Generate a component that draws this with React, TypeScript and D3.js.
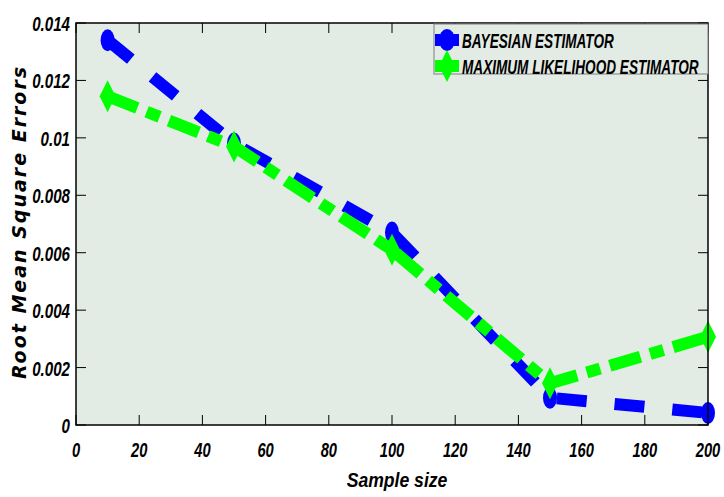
import { useEffect, useRef } from "react";
import * as d3 from "d3";

const sampleSizes = [10, 50, 100, 150, 200];
const bayesRmse = [0.0134, 0.0098, 0.0067, 0.00095, 0.00042];
const mleRmse = [0.01145, 0.0097, 0.0061, 0.00145, 0.00307];
const xTicks = [0, 20, 40, 60, 80, 100, 120, 140, 160, 180, 200];
const yTicks = [0, 0.002, 0.004, 0.006, 0.008, 0.01, 0.012, 0.014];
const yTickLabels = ["0", "0.002", "0.004", "0.006", "0.008", "0.01", "0.012", "0.014"];
const seriesNames = ["BAYESIAN ESTIMATOR", "MAXIMUM LIKELIHOOD ESTIMATOR"];

const FONT = "'Liberation Sans', Arial, sans-serif";

const App = () => {
  const ref = useRef<SVGSVGElement | null>(null);

  useEffect(() => {
    const width = 724;
    const height = 497;
    const margin = { top: 23, right: 16, bottom: 72, left: 76 };
    const iw = width - margin.left - margin.right;
    const ih = height - margin.top - margin.bottom;

    const svg = d3.select(ref.current);
    svg.selectAll("*").remove();

    const x = d3.scaleLinear().domain([0, 200]).range([0, iw]);
    const y = d3.scaleLinear().domain([0, 0.014]).range([ih, 0]);

    const g = svg.append("g").attr("transform", `translate(${margin.left},${margin.top})`);

    // condensed bold italic text (no narrow font installed, so squeeze horizontally)
    const narrow = (
      parent: d3.Selection<SVGGElement, unknown, null, undefined>,
      txt: string,
      tx: number,
      ty: number,
      size: number,
      sx: number,
      anchor: string
    ) =>
      parent
        .append("text")
        .attr("transform", `translate(${tx},${ty}) scale(${sx},1)`)
        .attr("text-anchor", anchor)
        .attr("font-family", FONT)
        .attr("font-weight", "bold")
        .attr("font-style", "italic")
        .attr("font-size", size)
        .text(txt);

    g.append("rect").attr("width", iw).attr("height", ih).attr("fill", "#e3ece4");

    // ticks pointing inward on all four sides
    const tk = 10;
    xTicks.forEach((t) => {
      g.append("line").attr("x1", x(t)).attr("x2", x(t)).attr("y1", ih).attr("y2", ih - tk).attr("stroke", "#000");
      g.append("line").attr("x1", x(t)).attr("x2", x(t)).attr("y1", 0).attr("y2", tk).attr("stroke", "#000");
      narrow(g, String(t), x(t), ih + 32, 21, 0.7, "middle");
    });
    yTicks.forEach((t, i) => {
      g.append("line").attr("x1", 0).attr("x2", tk).attr("y1", y(t)).attr("y2", y(t)).attr("stroke", "#000");
      g.append("line").attr("x1", iw).attr("x2", iw - tk).attr("y1", y(t)).attr("y2", y(t)).attr("stroke", "#000");
      narrow(g, yTickLabels[i], -6, y(t) + 8, 21, 0.72, "end");
    });

    const line = d3
      .line<[number, number]>()
      .x((d) => x(d[0]))
      .y((d) => y(d[1]));

    const bayes: [number, number][] = sampleSizes.map((s, i) => [s, bayesRmse[i]]);
    const mle: [number, number][] = sampleSizes.map((s, i) => [s, mleRmse[i]]);

    g.append("path")
      .datum(bayes)
      .attr("d", line)
      .attr("fill", "none")
      .attr("stroke", "#0000ff")
      .attr("stroke-width", 12)
      .attr("stroke-dasharray", "30,28");

    g.selectAll(".bdot")
      .data(bayes)
      .enter()
      .append("ellipse")
      .attr("cx", (d) => x(d[0]))
      .attr("cy", (d) => y(d[1]))
      .attr("rx", 7)
      .attr("ry", 11)
      .attr("fill", "#0000ff");

    g.append("path")
      .datum(mle)
      .attr("d", line)
      .attr("fill", "none")
      .attr("stroke", "#00ff00")
      .attr("stroke-width", 12)
      .attr("stroke-dasharray", "32,10,14,10");

    const diamond = (cx: number, cy: number) =>
      `M${cx},${cy - 16}L${cx + 8},${cy}L${cx},${cy + 16}L${cx - 8},${cy}Z`;

    g.selectAll(".gdot")
      .data(mle)
      .enter()
      .append("path")
      .attr("d", (d) => diamond(x(d[0]), y(d[1])))
      .attr("fill", "#00ff00");

    // frame
    g.append("rect")
      .attr("width", iw)
      .attr("height", ih)
      .attr("fill", "none")
      .attr("stroke", "#000")
      .attr("stroke-width", 1.5);

    // legend
    const lx = 434 - margin.left;
    const ly = 24 - margin.top;
    const lg = g.append("g");
    lg.append("rect")
      .attr("x", lx)
      .attr("y", ly)
      .attr("width", iw - lx)
      .attr("height", 50)
      .attr("fill", "#e3ece4")
      .attr("stroke", "#7f7f7f")
      .attr("stroke-width", 1);
    const rows = [
      { name: seriesNames[0], color: "#0000ff", cy: 40 - margin.top, kind: "circle" },
      { name: seriesNames[1], color: "#00ff00", cy: 66 - margin.top, kind: "diamond" },
    ];
    rows.forEach((r) => {
      const cx = 447 - margin.left;
      lg.append("line")
        .attr("x1", cx - 12)
        .attr("x2", cx + 12)
        .attr("y1", r.cy)
        .attr("y2", r.cy)
        .attr("stroke", r.color)
        .attr("stroke-width", 12);
      if (r.kind === "circle") {
        lg.append("ellipse").attr("cx", cx).attr("cy", r.cy).attr("rx", 8).attr("ry", 11).attr("fill", r.color);
      } else {
        lg.append("path").attr("d", diamond(cx, r.cy)).attr("fill", r.color);
      }
      narrow(lg, r.name, 462 - margin.left, r.cy + 8, 20, 0.68, "start");
    });

    const sg = svg.append("g");
    narrow(sg, "Sample size", 397, 487, 20, 0.88, "middle");

    svg
      .append("text")
      .attr("transform", `translate(26,222) rotate(-90)`)
      .attr("text-anchor", "middle")
      .attr("font-family", "'DejaVu Sans', sans-serif")
      .attr("font-weight", "bold")
      .attr("font-style", "italic")
      .attr("font-size", 19)
      .attr("letter-spacing", 2)
      .text("Root Mean Square Errors");
  }, []);

  return (
    <svg
      ref={ref}
      width={724}
      height={497}
      style={{ position: "absolute", left: 0, top: 0, background: "#fff" }}
    />
  );
};

export default App;
